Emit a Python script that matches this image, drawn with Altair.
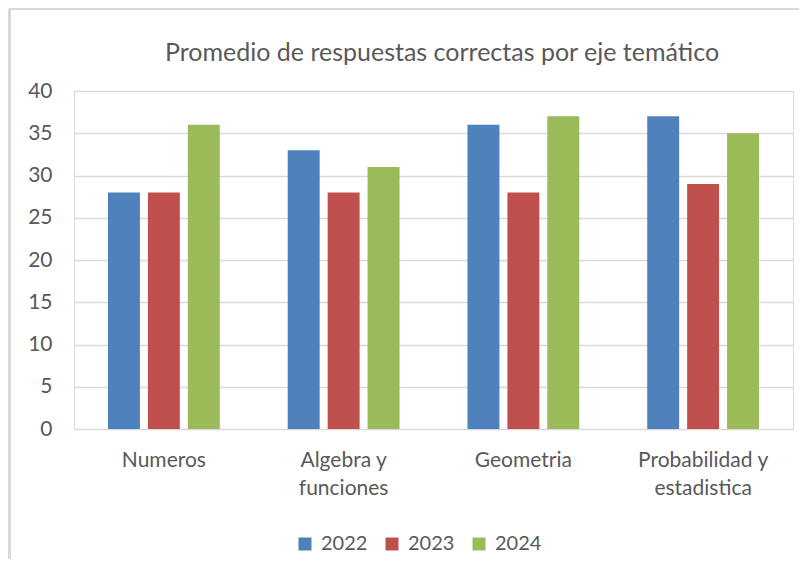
import altair as alt
import pandas as pd

categories = ["Numeros", "Algebra y|funciones", "Geometria", "Probabilidad y|estadistica"]
years = ["2022", "2023", "2024"]
v2022 = [28, 33, 36, 37]
v2023 = [28, 28, 28, 29]
v2024 = [36, 31, 37, 35]
colors = ["#4F81BD", "#C0504D", "#9BBB59"]
y_ticks = [0, 5, 10, 15, 20, 25, 30, 35, 40]
title_text = "Promedio de respuestas correctas por eje temático"

rows = []
for year, vals in zip(years, [v2022, v2023, v2024]):
    for c, v in zip(categories, vals):
        rows.append({"eje": c, "anio": year, "valor": v})
df = pd.DataFrame(rows)

FONT = "Lato"
TXT = "#595959"

bars = alt.Chart(df).mark_bar().encode(
    x=alt.X("eje:N", sort=categories, title=None,
            scale=alt.Scale(paddingInner=0.378, paddingOuter=0.189),
            axis=alt.Axis(labelExpr="split(datum.value, '|')", labelAngle=0,
                          labelPadding=20, ticks=False, domain=False,
                          labelFontSize=21, labelLineHeight=28, labelColor=TXT,
                          labelFont=FONT)),
    xOffset=alt.XOffset("anio:N", sort=years,
                        scale=alt.Scale(paddingInner=0.2, paddingOuter=0)),
    y=alt.Y("valor:Q", title=None,
            scale=alt.Scale(domain=[0, 40], nice=False),
            axis=alt.Axis(values=y_ticks, ticks=False, domain=False,
                          labelPadding=22, labelFontSize=21, labelColor=TXT,
                          labelFont=FONT, gridColor="#D9D9D9", gridWidth=1.3)),
    color=alt.Color("anio:N", sort=years, title=None,
                    scale=alt.Scale(domain=years, range=colors),
                    legend=alt.Legend(orient="none", direction="horizontal",
                                      legendX=221, legendY=443,
                                      symbolType="square", symbolSize=169,
                                      symbolStrokeWidth=0,
                                      labelFontSize=20, labelColor=TXT,
                                      labelFont=FONT, labelOffset=6,
                                      columnPadding=14)),
)

title_mark = alt.Chart(pd.DataFrame({"t": [title_text]})).mark_text(
    font=FONT, fontSize=25, color=TXT, align="center", baseline="middle"
).encode(text="t:N", x=alt.value(368), y=alt.value(-38))

frame_top = alt.Chart(df).mark_rule(color="#D9D9D9", strokeWidth=2).encode(
    x=alt.value(-65), x2=alt.value(730), y=alt.value(-82))
frame_left = alt.Chart(df).mark_rule(color="#D9D9D9", strokeWidth=2.5).encode(
    x=alt.value(-64.5), y=alt.value(-82), y2=alt.value(480))

chart = alt.layer(frame_top, frame_left, title_mark, bars).properties(
    width=719, height=338,
    padding={"left": 66, "top": 83, "right": 6, "bottom": 130},
    autosize=alt.AutoSizeParams(type="none"),
).configure_view(stroke=None).configure(background="white")

chart.save("out.html", embed_options={"renderer": "svg", "actions": False})
